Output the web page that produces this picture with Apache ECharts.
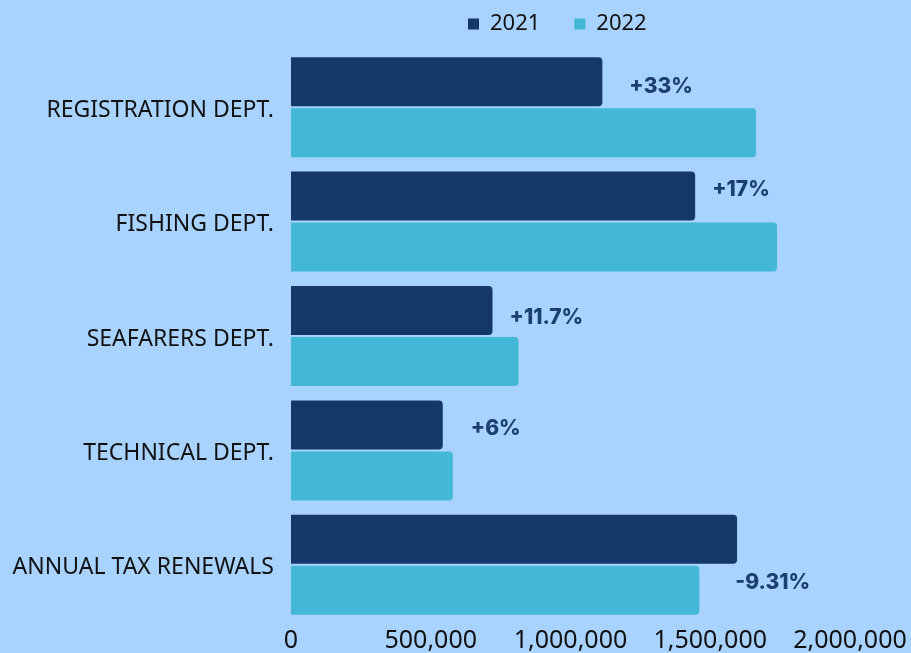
<!DOCTYPE html>
<html>
<head>
<meta charset="utf-8">
<script src="https://cdn.jsdelivr.net/npm/echarts@6/dist/echarts.min.js"></script>
<style>
  html, body { margin: 0; padding: 0; background: #a8d3fe; }
  #main { width: 911px; height: 653px; }
</style>
</head>
<body>
<div id="main"></div>
<script>
// departments, top to bottom
const categories = ["REGISTRATION DEPT.", "FISHING DEPT.", "SEAFARERS DEPT.", "TECHNICAL DEPT.", "ANNUAL TAX RENEWALS"];
const values2021 = [1114000, 1446000, 721000, 543000, 1596000];
const values2022 = [1664000, 1739000, 814000, 579000, 1461000];
const changeNotes = ["+33%", "+17%", "+11.7%", "+6%", "-9.31%"];
// which series carries the note (the last one sits next to the 2022 bar)
const noteOn = [2021, 2021, 2021, 2021, 2022];
const xTicks = [0, 500000, 1000000, 1500000, 2000000];

// label placement tweaks, [distance, dy]
const notePlace = [[27, 5], [17, -6], [17, 7], [28, 4], [36, -8]];

const navy = "#15386a";
const cyan = "#42b8d6";
const noteFont = {
  color: "#1b3f70",
  fontSize: 21,
  fontWeight: 800,
  fontFamily: "Inter"
};

function withNotes(vals, year) {
  return vals.map((v, i) => {
    if (noteOn[i] !== year) return v;
    return {
      value: v,
      label: Object.assign({
        show: true,
        position: "right",
        distance: notePlace[i][0],
        offset: [0, notePlace[i][1]],
        formatter: changeNotes[i]
      }, noteFont)
    };
  });
}

const myChart = echarts.init(document.getElementById("main"));
myChart.setOption({
  backgroundColor: "#a8d3fe",
  animation: false,
  textStyle: { fontFamily: "Noto Sans" },
  legend: {
    top: 8,
    left: 463,
    icon: "rect",
    itemWidth: 11,
    itemHeight: 11,
    itemGap: 34,
    textStyle: {
      color: "#111",
      fontSize: 22,
      fontFamily: "Noto Sans",
      padding: [0, 0, 0, 6]
    },
    data: ["2021", "2022"]
  },
  grid: {
    left: 291,
    right: 61,
    top: 50,
    bottom: 30,
    containLabel: false
  },
  xAxis: {
    type: "value",
    min: xTicks[0],
    max: xTicks[xTicks.length - 1],
    interval: xTicks[1] - xTicks[0],
    axisLine: { show: false },
    axisTick: { show: false },
    splitLine: { show: false },
    axisLabel: {
      color: "#111",
      fontSize: 25,
      margin: 6,
      formatter: v => v.toLocaleString("en-US")
    }
  },
  yAxis: {
    type: "category",
    inverse: true,
    data: categories,
    axisLine: { show: false },
    axisTick: { show: false },
    axisLabel: {
      margin: 17,
      formatter: v => "{c|" + v + "}",
      rich: {
        c: {
          color: "#111",
          fontSize: 23,
          fontFamily: "Noto Sans",
          padding: [6, 0, 0, 0]
        }
      }
    }
  },
  series: [
    {
      name: "2021",
      type: "bar",
      data: withNotes(values2021, 2021),
      barWidth: 49,
      barGap: "4%",
      itemStyle: { color: navy, borderRadius: [0, 4, 4, 0] }
    },
    {
      name: "2022",
      type: "bar",
      data: withNotes(values2022, 2022),
      barWidth: 49,
      itemStyle: { color: cyan, borderRadius: [0, 4, 4, 0] }
    }
  ]
});
</script>
</body>
</html>
